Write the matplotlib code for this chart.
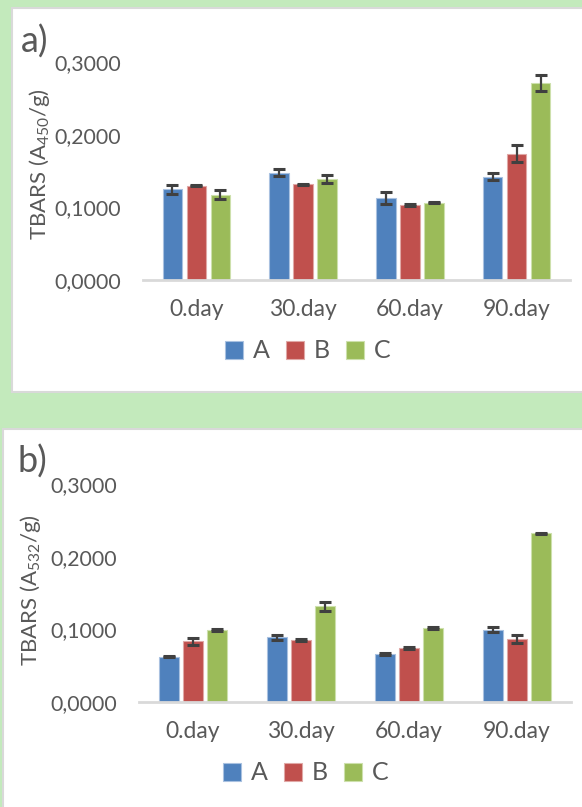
import matplotlib
matplotlib.use('agg')
import matplotlib.pyplot as plt
from matplotlib.patches import Rectangle
import numpy as np

# data
days = ['0.day', '30.day', '60.day', '90.day']
groups = ['A', 'B', 'C']

a_A = [0.1248, 0.1476, 0.1124, 0.1421]
a_B = [0.1297, 0.1316, 0.1032, 0.1737]
a_C = [0.1174, 0.1385, 0.1064, 0.2710]
a_errA = [0.0064, 0.0050, 0.0085, 0.0050]
a_errB = [0.0010, 0.0010, 0.0010, 0.0120]
a_errC = [0.0060, 0.0057, 0.0010, 0.0110]

b_A = [0.0623, 0.0890, 0.0660, 0.0995]
b_B = [0.0835, 0.0853, 0.0747, 0.0867]
b_C = [0.0995, 0.1316, 0.1013, 0.2320]
b_errA = [0.0010, 0.0035, 0.0010, 0.0035]
b_errB = [0.0044, 0.0010, 0.0015, 0.0050]
b_errC = [0.0015, 0.0057, 0.0015, 0.0010]

colors = ['#4f81bd', '#c0504d', '#9bbb59']
edges = ['#a9c1e0', '#e0a8a6', '#cde0ac']
txt = '#595959'

plt.rcParams['font.family'] = ['Lato', 'DejaVu Sans']
plt.rcParams['mathtext.default'] = 'regular'

W, H = 582, 807
fig = plt.figure(figsize=(W/100, H/100), dpi=100)
fig.patch.set_facecolor('#c3eabc')

# white panels
def panel(x0, y0, x1, y1):
    fig.patches.append(Rectangle((x0/W, 1-y1/H), (x1-x0)/W, (y1-y0)/H,
                                 transform=fig.transFigure, facecolor='white',
                                 edgecolor='#d9d9d9', linewidth=1.5, zorder=-5))

panel(12, 8, 590, 392)
panel(3, 429, 590, 815)


def draw(ax, vals, errs, sub, letter, lx, ly, labx, laby):
    x = np.arange(len(days))
    w = 0.183
    step = 0.225
    for i, (v, e) in enumerate(zip(vals, errs)):
        ax.bar(x + (i-1)*step, v, w, color=colors[i], edgecolor=edges[i],
               linewidth=0.8, label=groups[i], zorder=2)
        ax.errorbar(x + (i-1)*step, v, yerr=e, fmt='none', ecolor='#404040',
                    elinewidth=1.6, capsize=4, capthick=2.2, zorder=3)
    ax.set_xlim(-0.5, 3.5)
    ax.set_ylim(0, 0.3)
    ax.set_yticks([0, 0.1, 0.2, 0.3])
    ax.set_yticklabels(['0,0000', '0,1000', '0,2000', '0,3000'])
    ax.set_xticks(x)
    ax.set_xticklabels(days)
    ax.tick_params(axis='y', length=0, labelsize=15.3, colors=txt, pad=16)
    ax.tick_params(axis='x', length=0, labelsize=16.5, colors=txt, pad=14)
    for s in ['top', 'right', 'left']:
        ax.spines[s].set_visible(False)
    ax.spines['bottom'].set_color('#d9d9d9')
    ax.spines['bottom'].set_linewidth(2)
    ax.set_facecolor('none')
    ax.set_zorder(2)
    ax.set_ylabel('TBARS (A$_{' + sub + '}$/g)', fontsize=16, color=txt)
    ax.yaxis.set_label_coords(labx, laby)
    ax.yaxis.label.set_va('center')
    ax.legend(ncol=3, loc='center', bbox_to_anchor=(0.386, -0.325),
              frameon=False, fontsize=18, handlelength=0.72, handleheight=0.72,
              handletextpad=0.4, columnspacing=0.65, labelcolor=txt)
    fig.text(lx/W, 1-ly/H, letter, fontsize=26, color=txt, ha='left', va='center')


ax1 = fig.add_axes([143/W, 1-280/H, (570-143)/W, 218/H])
draw(ax1, [a_A, a_B, a_C], [a_errA, a_errB, a_errC], '450', 'a)', 21, 42,
     (40-143)/427, (280-164)/218)

ax2 = fig.add_axes([139/W, 1-702/H, (571-139)/W, 218/H])
draw(ax2, [b_A, b_B, b_C], [b_errA, b_errB, b_errC], '532', 'b)', 17, 462,
     (31-139)/432, (702-590)/218)

fig.savefig('out.png', dpi=100, facecolor=fig.get_facecolor())
